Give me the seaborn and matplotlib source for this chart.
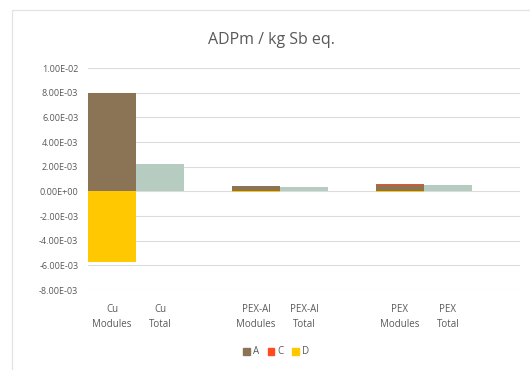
import numpy as np
import pandas as pd
import matplotlib
matplotlib.use("Agg")
import matplotlib.pyplot as plt
from matplotlib.patches import Rectangle
from matplotlib.ticker import FuncFormatter
import seaborn as sns

# Category slots (blank slots separate the three systems)
slots = ["Cu\nModules", "Cu\nTotal", " ", "PEX-Al\nModules", "PEX-Al\nTotal", "  ",
         "PEX\nModules", "PEX\nTotal", "   "]
module_cats = ["Cu\nModules", "PEX-Al\nModules", "PEX\nModules"]
total_cats = ["Cu\nTotal", "PEX-Al\nTotal", "PEX\nTotal"]

# Stage contributions (kg Sb eq.)
stage_a = [7.95e-3, 0.42e-3, 0.55e-3]
stage_c = [0.05e-3, 0.015e-3, 0.01e-3]
stage_d = [-5.75e-3, -0.05e-3, -0.08e-3]
totals = [2.2e-3, 0.38e-3, 0.48e-3]

col_a = "#8b7355"
col_c = "#ff4b1f"
col_d = "#ffc800"
col_tot = "#b7ccc1"
text_col = "#595959"

sns.set_theme(style="white")
plt.rcParams["font.family"] = ["Open Sans", "DejaVu Sans"]

mods = pd.DataFrame({"cat": module_cats, "A": stage_a, "C": stage_c, "D": stage_d})
mods["AC"] = mods["A"] + mods["C"]
tots = pd.DataFrame({"cat": total_cats, "Total": totals})

fig = plt.figure(figsize=(5.3, 3.7), dpi=100)
fig.patch.set_facecolor("white")
# chart frame
fig.patches.append(Rectangle((12 / 530, -0.1), 1.2, 1 - 10 / 370 + 0.1,
                             transform=fig.transFigure, fill=False,
                             edgecolor="#e3e3e3", linewidth=0.9, zorder=0))

ax = fig.add_axes([88 / 530, 1 - 290 / 370, 432 / 530, 222 / 370])

common = dict(x="cat", order=slots, width=1.0, linewidth=0, saturation=1, ax=ax, zorder=3)
sns.barplot(data=mods, y="AC", color=col_c, **common)
sns.barplot(data=mods, y="A", color=col_a, **common)
sns.barplot(data=mods, y="D", color=col_d, **common)
sns.barplot(data=tots, y="Total", color=col_tot, **common)

ax.set_xlim(-0.5, len(slots) - 0.5)
ax.set_ylim(-8e-3, 1e-2)
ax.set_yticks(np.arange(-8e-3, 1.0001e-2, 2e-3))
ax.yaxis.set_major_formatter(FuncFormatter(lambda v, p: f"{v:.2E}".replace("-0.00E+00", "0.00E+00")))
ax.grid(axis="y", color="#dcdcdc", linewidth=0.8, zorder=0)
ax.set_axisbelow(True)
for s in ax.spines.values():
    s.set_visible(False)
ax.set_xlabel("")
ax.set_ylabel("")
ax.set_xticks(range(len(slots)))
ax.set_xticklabels([s if s.strip() else "" for s in slots])
ax.tick_params(axis="x", length=0, pad=10, labelsize=7, labelcolor=text_col)
ax.tick_params(axis="y", length=0, pad=7, labelsize=6.5, labelcolor=text_col)
for lbl in ax.get_xticklabels():
    lbl.set_linespacing(1.5)

fig.text(271 / 530, 1 - 40 / 370, "ADPm / kg Sb eq.", ha="center", va="center",
         fontsize=11.5, color=text_col)

handles = [Rectangle((0, 0), 1, 1, color=c) for c in (col_a, col_c, col_d)]
fig.legend(handles, ["A", "C", "D"], loc="center", bbox_to_anchor=(276 / 530, 1 - 352 / 370),
           ncol=3, frameon=False, fontsize=7, labelcolor=text_col, handlelength=0.7,
           handleheight=0.7, handletextpad=0.3, columnspacing=0.9)

fig.savefig("out.png", dpi=100, facecolor="white")
